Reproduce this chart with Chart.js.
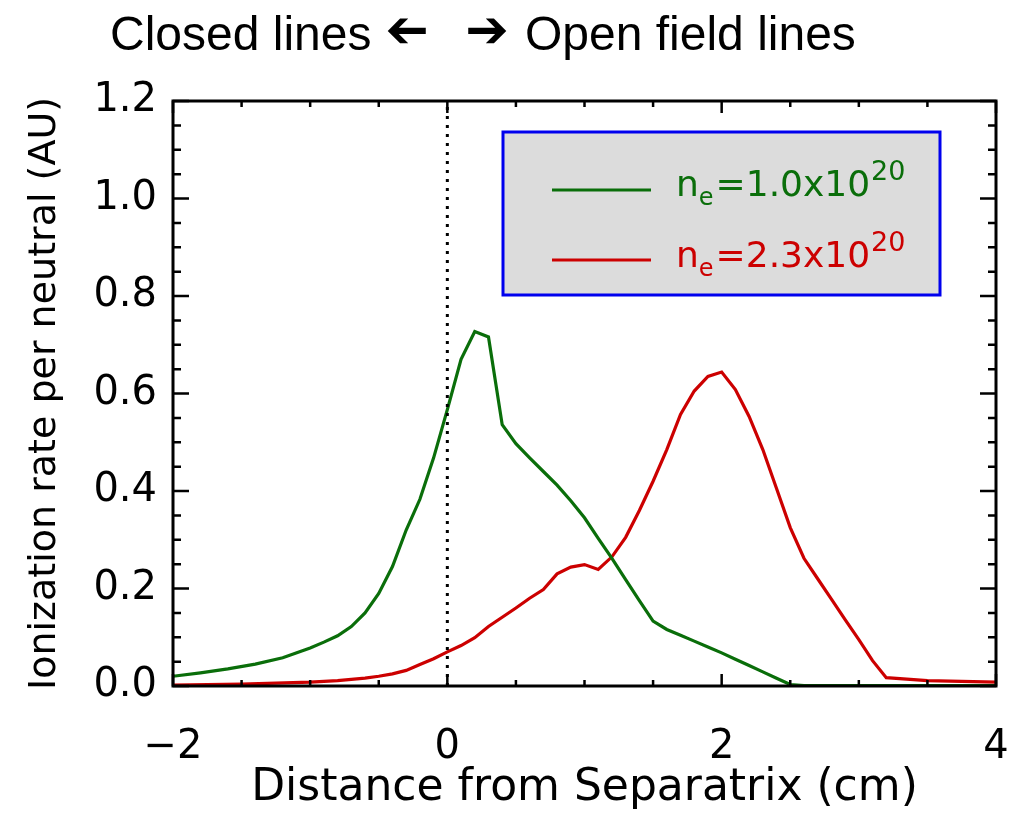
<!DOCTYPE html>
<html>
<head>
<meta charset="utf-8">
<script src="https://cdn.jsdelivr.net/npm/chart.js@4"></script>
<style>
  html, body { margin: 0; padding: 0; background: #fff; }
  canvas { display: block; }
</style>
</head>
<body>
<canvas id="grafico" width="1016" height="814"></canvas>
<script>
// ---------------------
// Dados
// ---------------------
const X_BAIXA = [-2.0, -1.8, -1.6, -1.4, -1.2, -1.0, -0.9, -0.8, -0.7, -0.6, -0.5, -0.4, -0.3, -0.2, -0.1,
    0.0, 0.1, 0.2, 0.3, 0.4, 0.5, 0.6, 0.7, 0.8, 0.9, 1.0, 1.1, 1.2, 1.3, 1.4, 1.5, 1.6, 1.7, 1.8, 1.9,
    2.0, 2.1, 2.2, 2.3, 2.4, 2.5, 2.6, 3.0, 3.5, 4.0];
const Y_BAIXA = [0.020, 0.027, 0.035, 0.045, 0.058, 0.078, 0.090, 0.103, 0.122, 0.150, 0.190, 0.245, 0.320, 0.383, 0.468,
    0.567, 0.670, 0.727, 0.716, 0.536, 0.497, 0.468, 0.440, 0.412, 0.380, 0.345, 0.303, 0.262, 0.218, 0.175, 0.133, 0.116, 0.104, 0.092, 0.080,
    0.068, 0.055, 0.042, 0.029, 0.016, 0.003, 0.001, 0.001, 0.001, 0.001];

const X_ALTA = [-2.0, -1.5, -1.0, -0.8, -0.6, -0.5, -0.4, -0.3, -0.2, -0.1,
    0.0, 0.1, 0.2, 0.3, 0.4, 0.5, 0.6, 0.7, 0.8, 0.9, 1.0, 1.1, 1.2, 1.3, 1.4, 1.5, 1.6, 1.7, 1.8, 1.9,
    2.0, 2.1, 2.2, 2.3, 2.4, 2.5, 2.6, 2.7, 2.8, 2.9, 3.0, 3.1, 3.2, 3.5, 4.0];
const Y_ALTA = [0.002, 0.004, 0.008, 0.011, 0.016, 0.020, 0.025, 0.032, 0.044, 0.056,
    0.070, 0.083, 0.099, 0.122, 0.141, 0.160, 0.180, 0.198, 0.230, 0.244, 0.249, 0.239, 0.265, 0.305, 0.360, 0.420, 0.485, 0.557, 0.605, 0.635,
    0.644, 0.608, 0.553, 0.485, 0.405, 0.325, 0.262, 0.220, 0.178, 0.136, 0.095, 0.052, 0.017, 0.011, 0.008];

const SEPARATRIZ = 0;
const DENSIDADES = ['1.0', '2.3'];
const EXPOENTE = '20';
const CORES = ['#0a6e0a', '#cc0000'];

const TITULO_ESQ = 'Closed lines';
const TITULO_DIR = 'Open field lines';
const SETA = '\u2794';
const TITULO_X = 'Distance from Separatrix (cm)';
const TITULO_Y = 'Ionization rate per neutral (AU)';

const X_MIN = -2, X_MAX = 4, Y_MIN = 0, Y_MAX = 1.2;

const FONTE = "'DejaVu Sans', sans-serif";

// ---------------------
// Plugins
// ---------------------

// Moldura e ticks internos (estilo IDL)
const ticksInternos = {
    id: 'ticksInternos',
    afterDatasetsDraw(chart) {
        const { ctx, chartArea: a, scales: { x, y } } = chart;
        ctx.save();
        ctx.strokeStyle = '#000';
        ctx.lineWidth = 3;
        ctx.strokeRect(a.left, a.top, a.right - a.left, a.bottom - a.top);

        ctx.lineWidth = 2.5;
        ctx.beginPath();
        for (let i = 0; i <= (X_MAX - X_MIN) / 0.5; i++) {
            const v = X_MIN + i * 0.5;
            const px = x.getPixelForValue(v);
            const len = i % 4 === 0 ? 12 : 6;
            ctx.moveTo(px, a.bottom); ctx.lineTo(px, a.bottom - len);
            ctx.moveTo(px, a.top); ctx.lineTo(px, a.top + len);
        }
        for (let i = 0; i <= (Y_MAX - Y_MIN) / 0.05 + 0.5; i++) {
            const v = Y_MIN + i * 0.05;
            const py = y.getPixelForValue(v);
            const len = i % 4 === 0 ? 16 : 8;
            ctx.moveTo(a.left, py); ctx.lineTo(a.left + len, py);
            ctx.moveTo(a.right, py); ctx.lineTo(a.right - len, py);
        }
        ctx.stroke();
        ctx.restore();
    }
};

// Legenda em caixa cinza com sub/sobrescritos
const legendaCaixa = {
    id: 'legendaCaixa',
    afterDraw(chart) {
        const ctx = chart.ctx;
        ctx.save();
        ctx.fillStyle = '#dcdcdc';
        ctx.fillRect(503, 132, 437, 163);
        ctx.strokeStyle = '#0000ee';
        ctx.lineWidth = 3;
        ctx.strokeRect(503, 132, 437, 163);

        DENSIDADES.forEach((d, i) => {
            const cor = CORES[i];
            const yLinha = 190 + i * 70;
            const yBase = 196 + i * 71;

            ctx.strokeStyle = cor;
            ctx.lineWidth = 3;
            ctx.beginPath();
            ctx.moveTo(552, yLinha);
            ctx.lineTo(651, yLinha);
            ctx.stroke();

            ctx.fillStyle = cor;
            ctx.textBaseline = 'alphabetic';
            ctx.textAlign = 'left';
            let xt = 676;
            ctx.font = `36px ${FONTE}`;
            ctx.fillText('n', xt, yBase);
            xt += ctx.measureText('n').width;
            ctx.font = `24px ${FONTE}`;
            ctx.fillText('e', xt, yBase + 9);
            xt += ctx.measureText('e').width + 2;
            ctx.font = `36px ${FONTE}`;
            const meio = `=${d}x10`;
            ctx.fillText(meio, xt, yBase);
            xt += ctx.measureText(meio).width;
            ctx.font = `27px ${FONTE}`;
            ctx.fillText(EXPOENTE, xt + 1, yBase - 16);
        });
        ctx.restore();
    }
};

// Título com setas
const tituloSetas = {
    id: 'tituloSetas',
    afterDraw(chart) {
        const ctx = chart.ctx;
        ctx.save();
        ctx.fillStyle = '#000';
        ctx.textBaseline = 'alphabetic';
        ctx.font = "48px 'Liberation Sans', Arial, sans-serif";
        ctx.textAlign = 'left';
        ctx.fillText(TITULO_ESQ, 110, 50);
        ctx.fillText(TITULO_DIR, 525, 50);

        ctx.font = "bold 52px 'DejaVu Sans', sans-serif";
        ctx.textAlign = 'center';
        ctx.textBaseline = 'middle';
        ctx.fillText(SETA, 487, 33);
        // seta da esquerda = mesma seta espelhada
        ctx.translate(407, 33);
        ctx.scale(-1, 1);
        ctx.fillText(SETA, 0, 0);
        ctx.restore();
    }
};

// ---------------------
// Gráfico
// ---------------------
const paraPontos = (xs, ys) => xs.map((x, i) => ({ x, y: ys[i] }));

new Chart(document.getElementById('grafico'), {
    type: 'scatter',
    data: {
        datasets: [
            {
                label: 'separatriz',
                data: [{ x: SEPARATRIZ, y: Y_MIN }, { x: SEPARATRIZ, y: Y_MAX }],
                showLine: true,
                borderColor: '#000',
                borderWidth: 3,
                borderDash: [3, 6],
                pointRadius: 0
            },
            {
                label: 'ne=1.0x10^20',
                data: paraPontos(X_BAIXA, Y_BAIXA),
                showLine: true,
                borderColor: CORES[0],
                borderWidth: 3.2,
                pointRadius: 0,
                tension: 0
            },
            {
                label: 'ne=2.3x10^20',
                data: paraPontos(X_ALTA, Y_ALTA),
                showLine: true,
                borderColor: CORES[1],
                borderWidth: 3.2,
                pointRadius: 0,
                tension: 0
            }
        ]
    },
    options: {
        responsive: false,
        animation: false,
        layout: { padding: { left: 20, right: 20, top: 101, bottom: 3 } },
        plugins: {
            legend: { display: false },
            tooltip: { enabled: false }
        },
        scales: {
            x: {
                type: 'linear',
                min: X_MIN,
                max: X_MAX,
                grid: { display: false, drawTicks: false, drawOnChartArea: false },
                border: { display: false },
                ticks: {
                    stepSize: 2,
                    padding: 38,
                    color: '#000',
                    font: { family: FONTE, size: 40, lineHeight: 1.2 },
                    maxRotation: 0,
                    callback: v => (v < 0 ? '\u2212' + Math.abs(v) : String(v))
                },
                title: {
                    display: true,
                    text: TITULO_X,
                    color: '#000',
                    font: { family: FONTE, size: 44, lineHeight: 1.0 },
                    padding: { top: 0, bottom: 0 }
                },
                afterFit(scale) {
                    scale.height = 125;
                    scale.paddingLeft = 0;
                    scale.paddingRight = 0;
                }
            },
            y: {
                type: 'linear',
                min: Y_MIN,
                max: Y_MAX,
                grid: { display: false, drawTicks: false, drawOnChartArea: false },
                border: { display: false },
                ticks: {
                    stepSize: 0.2,
                    padding: 16,
                    color: '#000',
                    font: { family: FONTE, size: 40 },
                    callback: v => v.toFixed(1)
                },
                title: {
                    display: true,
                    text: TITULO_Y,
                    color: '#000',
                    font: { family: FONTE, size: 38, lineHeight: 1.2 },
                    padding: { top: 2, bottom: 26 }
                },
                afterFit(scale) {
                    scale.width = 153;
                    scale.paddingTop = 0;
                    scale.paddingBottom = 0;
                }
            }
        }
    },
    plugins: [ticksInternos, legendaCaixa, tituloSetas]
});
</script>
</body>
</html>
